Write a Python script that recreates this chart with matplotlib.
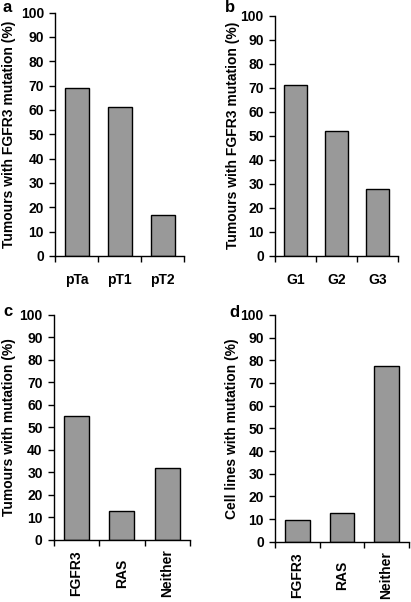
import matplotlib
matplotlib.use("Agg")
import matplotlib.pyplot as plt
import matplotlib.transforms as mtransforms
import numpy as np

plt.rcParams['font.family'] = ['Liberation Sans', 'DejaVu Sans']
plt.rcParams['font.weight'] = 'bold'

# data
stage_labels = ['pTa', 'pT1', 'pT2']
stage_values = [69, 61, 17]

grade_labels = ['G1', 'G2', 'G3']
grade_values = [71, 52, 28]

tumour_labels = ['FGFR3', 'RAS', 'Neither']
tumour_values = [55, 13, 32]

cell_labels = ['FGFR3', 'RAS', 'Neither']
cell_values = [9.7, 12.8, 77.3]

ylabel_fgfr3 = 'Tumours with FGFR3 mutation (%)'
ylabel_tum = 'Tumours with mutation (%)'
ylabel_cell = 'Cell lines with mutation (%)'

W, H = 411, 602
fig = plt.figure(figsize=(W / 100, H / 100), dpi=100)

# axes rect, panel letter + its position (fig px), ylabel x (fig px), labels, values, ylabel, rotate
panels = [
    ([0.134, 0.575, 0.314, 0.404], 'a', (2, 0), 9, stage_labels, stage_values, ylabel_fgfr3, False),
    ([0.669, 0.575, 0.299, 0.399], 'b', (225, 0), 233, grade_labels, grade_values, ylabel_fgfr3, False),
    ([0.131, 0.103, 0.331, 0.374], 'c', (3, 304), 9, tumour_labels, tumour_values, ylabel_tum, True),
    ([0.669, 0.100, 0.326, 0.377], 'd', (229, 305), 232, cell_labels, cell_values, ylabel_cell, True),
]

for rect, letter, lpos, ylx, labels, values, ylab, rot in panels:
    ax = fig.add_axes(rect)
    x = np.arange(len(labels))
    ax.bar(x, values, width=0.556, color='#999999', edgecolor='black', linewidth=1.0)
    ax.set_xlim(-0.5, len(labels) - 0.5)
    ax.set_ylim(0, 100)
    ax.set_yticks(range(0, 101, 10))
    ax.set_xticks(x)
    if rot:
        ax.set_xticklabels(labels, rotation=90, fontsize=10, fontweight='bold', va='center')
        ax.tick_params(axis='x', which='major', length=0, pad=24)
    else:
        ax.set_xticklabels(labels, fontsize=10, fontweight='bold')
        ax.tick_params(axis='x', which='major', length=0, pad=12)
    ax.set_xticks(np.arange(-0.5, len(labels)), minor=True)
    ax.tick_params(axis='x', which='minor', length=4, width=1, direction='out')
    ax.tick_params(axis='y', length=4, width=1, direction='out', labelsize=10, pad=4)
    for t in ax.get_yticklabels():
        t.set_fontweight('bold')
    ax.spines['top'].set_visible(False)
    ax.spines['right'].set_visible(False)
    ax.spines['left'].set_linewidth(1)
    ax.spines['bottom'].set_linewidth(1)
    ax.set_ylabel(ylab, fontsize=10, fontweight='bold', va='center')
    trans = mtransforms.blended_transform_factory(fig.transFigure, ax.transAxes)
    ax.yaxis.set_label_coords(ylx / W, 0.5, transform=trans)
    fig.text(lpos[0] / W, 1 - lpos[1] / H, letter,
             fontsize=12, fontweight='bold', ha='left', va='top')

fig.savefig('out.png', dpi=100)
